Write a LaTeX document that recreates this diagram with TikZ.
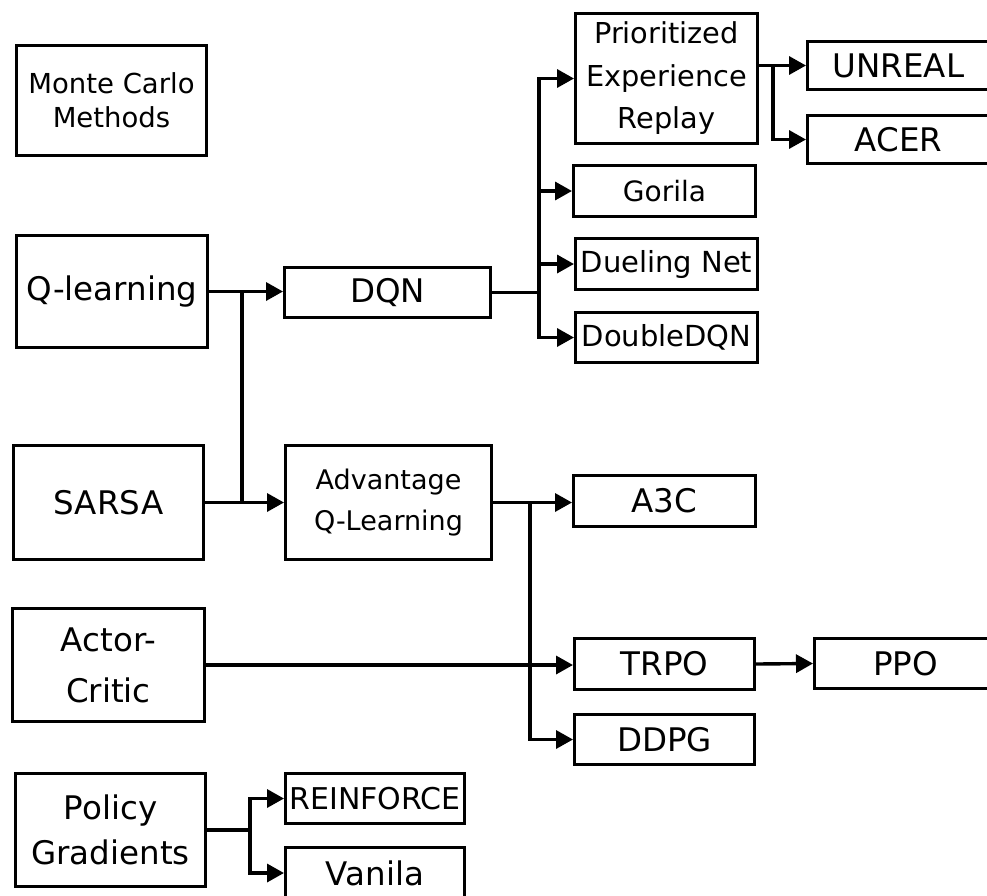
\documentclass[tikz,border=0pt]{standalone}
\usepackage{fontspec}
\setmainfont{DejaVu Sans}
\usetikzlibrary{arrows.meta}
\begin{document}
\begin{tikzpicture}[x=1pt,y=-1pt,
  box/.style={draw,line width=3pt,inner sep=0pt,align=center},
  big/.style={font=\fontsize{32.5}{48}\selectfont},
  mid/.style={font=\fontsize{29}{41}\selectfont},
  small/.style={font=\fontsize{27.5}{34}\selectfont},
  conn/.style={line width=3.4pt},
  arr/.style={conn,-{Triangle[length=17pt,width=18pt]}},
]
\useasboundingbox (0,0) rectangle (987,895);
% left column
\node[box,small,minimum width=190pt,minimum height=110pt] (mc) at (111.5,100.5) {Monte Carlo\\Methods};
\node[box,big,minimum width=191pt,minimum height=112pt] (ql) at (112,291.5) {Q-learning};
\node[box,big,minimum width=190pt,minimum height=114pt] (sarsa) at (108.5,502.5) {SARSA};
\node[box,big,font=\fontsize{32.5}{51}\selectfont,minimum width=192pt,minimum height=113pt] (ac) at (108.5,665) {Actor-\\Critic};
\node[box,big,font=\fontsize{32.5}{45}\selectfont,minimum width=190pt,minimum height=113pt] (pg) at (110.5,830) {Policy\\Gradients};
% second column
\node[box,big,minimum width=206pt,minimum height=50pt] (dqn) at (387.5,292.5) {DQN};
\node[box,font=\fontsize{27}{41}\selectfont,minimum width=206pt,minimum height=114pt] (aql) at (388.5,502.5) {Advantage\\Q-Learning};
\node[box,font=\fontsize{30}{36}\selectfont,minimum width=179pt,minimum height=50pt] (rein) at (375,798.5) {REINFORCE};
\node[box,big,minimum width=179pt,minimum height=51pt] (van) at (375,873) {Vanila};
% third column
\node[box,font=\fontsize{28.8}{42.5}\selectfont,minimum width=182pt,minimum height=130pt] (per) at (666.5,78.5) {Prioritized\\Experience\\Replay};
\node[box,font=\fontsize{28}{36}\selectfont,minimum width=182pt,minimum height=51pt] (gor) at (664.5,191) {Gorila};
\node[box,mid,minimum width=182pt,minimum height=51pt] (duel) at (666.5,264) {Dueling Net};
\node[box,mid,minimum width=182pt,minimum height=50pt] (ddqn) at (666.5,337.5) {DoubleDQN};
\node[box,big,minimum width=182pt,minimum height=51pt] (a3c) at (664.5,501) {A3C};
\node[box,big,minimum width=180pt,minimum height=51pt] (trpo) at (664.5,664) {TRPO};
\node[box,big,minimum width=180pt,minimum height=50pt] (ddpg) at (664.5,739.5) {DDPG};
% fourth column
\node[box,big,minimum width=182pt,minimum height=48pt] (unreal) at (898.5,65.5) {UNREAL};
\node[box,big,minimum width=182pt,minimum height=48pt] (acer) at (898.5,139.5) {ACER};
\node[box,big,minimum width=182pt,minimum height=50pt] (ppo) at (905.5,663.5) {PPO};
% junction columns
\coordinate (ja) at (242,0);
\coordinate (jb) at (539,0);
\coordinate (jc) at (773,0);
\coordinate (jd) at (530,0);
\coordinate (je) at (250,0);
% Q-learning / SARSA
\draw[arr] (ql.east) -- (ql.east -| dqn.west);
\draw[arr] (sarsa.east) -- (sarsa.east -| aql.west);
\draw[conn] (ql.east -| ja) -- (sarsa.east -| ja);
% DQN bus
\draw[conn] (dqn.east) -- (dqn.east -| jb);
\draw[arr] (dqn.east -| jb) |- (per.west);
\draw[arr] (gor.west -| jb) -- (gor.west);
\draw[arr] (duel.west -| jb) -- (duel.west);
\draw[arr] (dqn.east -| jb) |- (ddqn.west);
% PER
\draw[arr] (per.east |- unreal.west) -- (unreal.west);
\draw[arr] (jc |- unreal.west) |- (acer.west);
% Advantage
\draw[arr] (aql.east) -- (aql.east -| a3c.west);
\draw[arr] (aql.east -| jd) |- (ddpg.west);
\draw[arr] (ac.east) -- (ac.east -| trpo.west);
\draw[arr] (trpo.east) -- (ppo.west);
% Policy gradients
\draw[conn] (pg.east) -- (pg.east -| je);
\draw[arr] (pg.east -| je) |- (rein.west);
\draw[arr] (pg.east -| je) |- (van.west);
\end{tikzpicture}
\end{document}
